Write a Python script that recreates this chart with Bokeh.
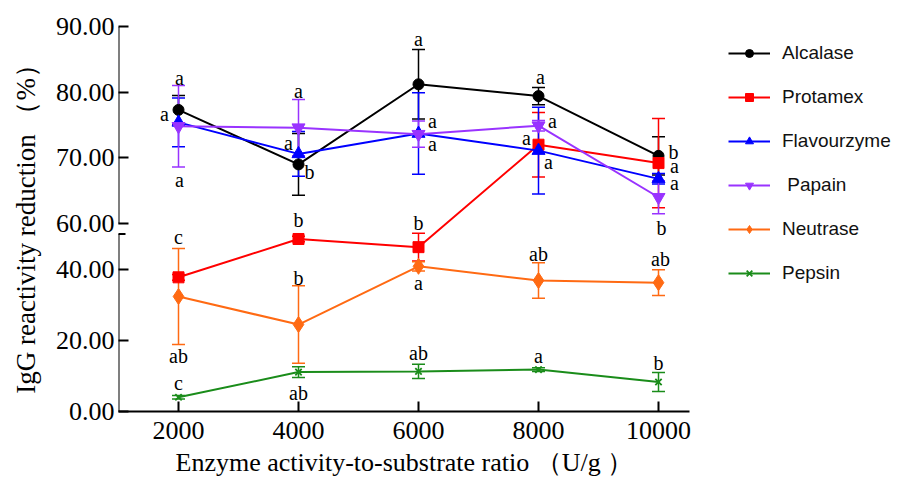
from bokeh.plotting import figure
from bokeh.models import (Range1d, FixedTicker, Whisker, ColumnDataSource, Legend,
                          LegendItem, Arrow, TeeHead, Title)
from bokeh.embed import file_html
from bokeh.resources import INLINE
from bokeh.core.properties import value

# ---------------- data ----------------
ratios = [2000, 4000, 6000, 8000, 10000]
x_tick_labels = ["2000", "4000", "6000", "8000", "10000"]

alcalase = [77.3, 69.0, 81.2, 79.4, 70.3]
alcalase_err = [2.2, 4.7, 5.3, 1.3, 2.9]
protamex = [37.8, 48.6, 46.3, 72.0, 69.2]
protamex_err = [0.8, 0.8, 3.9, 4.9, 6.8]
flavourzyme = [75.4, 70.6, 73.7, 71.1, 66.8]
flavourzyme_err = [3.7, 3.4, 6.2, 6.6, 0.8]
papain = [74.8, 74.6, 73.6, 74.9, 64.0]
papain_err = [6.2, 4.3, 2.0, 0.8, 2.5]
neutrase = [32.4, 24.5, 40.9, 36.9, 36.3]
neutrase_err = [13.5, 10.9, 1.3, 5.0, 3.6]
pepsin = [4.0, 11.1, 11.3, 11.8, 8.3]
pepsin_err = [0.5, 1.5, 2.0, 0.5, 2.7]

alcalase_sig = ["a", "b", "a", "a", "b"]
protamex_sig = ["c", "b", "b", "a", "a"]
flavourzyme_sig = ["a", "a", "a", "a", "a"]
papain_sig = ["a", "a", "a", "a", "b"]
neutrase_sig = ["ab", "b", "a", "ab", "ab"]
pepsin_sig = ["c", "ab", "ab", "a", "b"]

y_ticks = [0, 20, 40, 60, 70, 80, 90]
y_tick_labels = ["0.00", "20.00", "40.00", "60.00", "70.00", "80.00", "90.00"]

x_title = "Enzyme activity-to-substrate ratio \uff08U/g \uff09"
y_title = "IgG reactivity reduction  \uff08%\uff09"

# ---------------- broken y axis (0-50 | 60-90) ----------------
LOW_TOP = 50.0
UP_BOTTOM = 60.0
UP_TOP = 90.0
GAP = 2.96        # display units between the two segments
UP_SCALE = 1.85   # upper segment is stretched relative to lower


def tr(v):
    if v < 55:
        return v
    return LOW_TOP + GAP + (v - UP_BOTTOM) * UP_SCALE


# ---------------- layout ----------------
W, H = 909, 483
BL, BR, BT, BB = 118, 4, 26, 72
PXX = 1000 / 60.0                 # x units per pixel
X0 = 1000
X1 = X0 + PXX * (W - BL - BR)
X_AXIS_END = 10510

SERIF = "Liberation Serif"
SANS = "Liberation Sans"

p = figure(width=W, height=H, output_backend="svg", toolbar_location=None,
           x_range=Range1d(X0, X1), y_range=Range1d(0, tr(UP_TOP)),
           min_border_left=BL, min_border_right=BR, min_border_top=BT,
           min_border_bottom=BB)
p.outline_line_color = None
p.xgrid.visible = False
p.ygrid.visible = False
p.background_fill_color = "white"
p.border_fill_color = "white"

# x axis
xa = p.xaxis[0]
xa.ticker = FixedTicker(ticks=ratios)
xa.major_label_overrides = {r: l for r, l in zip(ratios, x_tick_labels)}
xa.bounds = (X0, X_AXIS_END)
xa.axis_line_width = 2
xa.axis_line_color = "black"
xa.major_tick_in = 10
xa.major_tick_out = 0
xa.major_tick_line_width = 2
xa.minor_tick_line_color = None
xa.major_label_text_font = SERIF
xa.major_label_text_font_size = "26px"
xa.major_label_text_color = "black"
xa.major_label_standoff = 10

p.add_layout(Title(text=x_title, align="left", offset=57, text_font=SERIF,
                   text_font_size="26px", text_font_style="normal",
                   text_color="black", standoff=9), "below")

# y axis
ya = p.yaxis[0]
ya.ticker = FixedTicker(ticks=[tr(v) for v in y_ticks])
ya.major_label_overrides = {tr(v): l for v, l in zip(y_ticks, y_tick_labels)}
ya.axis_line_color = None
ya.major_tick_in = 10
ya.major_tick_out = 0
ya.major_tick_line_width = 2
ya.minor_tick_line_color = None
ya.major_label_text_font = SERIF
ya.major_label_text_font_size = "26px"
ya.major_label_text_color = "black"
ya.major_label_standoff = 4
ya.axis_label = y_title
ya.axis_label_text_font = SERIF
ya.axis_label_text_font_size = "27px"
ya.axis_label_text_font_style = "normal"
ya.axis_label_text_color = "black"
ya.axis_label_standoff = 12

# broken axis line segments
def seg(xs, ys, xe, ye):
    p.add_layout(Arrow(end=None, start=None, x_start=xs, y_start=ys, x_end=xe, y_end=ye,
                       line_color="black", line_width=2))

seg(X0, tr(UP_BOTTOM), X0, tr(UP_TOP))
seg(X0 - 3 * PXX, tr(UP_BOTTOM), X0, tr(UP_BOTTOM))
seg(X0, 0, X0, tr(LOW_TOP))
seg(X0 - 5 * PXX, tr(LOW_TOP), X0 + 7 * PXX, tr(LOW_TOP))

# ---------------- series ----------------
series = [
    ("Alcalase", alcalase, alcalase_err, alcalase_sig, "black", "circle", 11),
    ("Protamex", protamex, protamex_err, protamex_sig, "#ff0000", "square", 11),
    ("Flavourzyme", flavourzyme, flavourzyme_err, flavourzyme_sig, "#0000ff", "triangle", 13),
    (" Papain", papain, papain_err, papain_sig, "#9933ff", "inverted_triangle", 13),
    ("Neutrase", neutrase, neutrase_err, neutrase_sig, "#ff6a13", "diamond", 16),
    ("Pepsin", pepsin, pepsin_err, pepsin_sig, "#1a8c1a", "x", 9),
]

# significance-letter offsets in pixels (dx, dy) relative to each point
sig_offsets = [
    [(-14, 4), (11, 8), (0, -45), (2, -19), (15, -4)],
    [(0, -40), (0, -19), (0, -24), (-12, -7), (16, 3)],
    [(1, 58), (-10, -11), (14, 10), (10, 11), (16, 4)],
    [(1, -48), (0, -37), (14, -13), (14, -5), (3, 31)],
    [(0, 60), (0, -47), (0, 17), (0, -27), (2, -24)],
    [(0, -14), (0, 21), (0, -18), (0, -14), (0, -19)],
]

items = []
for (name, vals, errs, sigs, color, marker, size), offs in zip(series, sig_offsets):
    ty = [tr(v) for v in vals]
    src = ColumnDataSource(dict(x=ratios, y=ty))
    wsrc = ColumnDataSource(dict(base=ratios,
                                 upper=[tr(v + e) for v, e in zip(vals, errs)],
                                 lower=[tr(v - e) for v, e in zip(vals, errs)]))
    w = Whisker(source=wsrc, base="base", upper="upper", lower="lower",
                line_color=color, line_width=1.5,
                upper_head=TeeHead(size=13, line_color=color, line_width=1.5),
                lower_head=TeeHead(size=13, line_color=color, line_width=1.5))
    p.add_layout(w)
    lr = p.line("x", "y", source=src, line_color=color, line_width=2)
    if marker == "x":
        sr = p.scatter("x", "y", source=src, marker=marker, size=size,
                       line_color=color, line_width=1.8)
    else:
        sr = p.scatter("x", "y", source=src, marker=marker, size=size,
                       fill_color=color, line_color=color)
    items.append(LegendItem(label=name, renderers=[lr, sr]))
    tsrc = ColumnDataSource(dict(x=ratios, y=ty, text=sigs,
                                 dx=[o[0] for o in offs], dy=[o[1] for o in offs]))
    p.text("x", "y", text="text", source=tsrc, x_offset="dx", y_offset="dy",
           text_font=value(SERIF), text_font_size=value("20px"), text_color="black",
           text_align="center", text_baseline="middle")

legend = Legend(items=items, location=(610, 127), glyph_width=42, glyph_height=20,
                label_height=20, label_standoff=12, spacing=22, padding=0, margin=0,
                border_line_color=None, background_fill_alpha=0,
                label_text_font=SANS, label_text_font_size="19px",
                label_text_color="#111111")
p.add_layout(legend)

open("out.html", "w").write(file_html(p, INLINE))
